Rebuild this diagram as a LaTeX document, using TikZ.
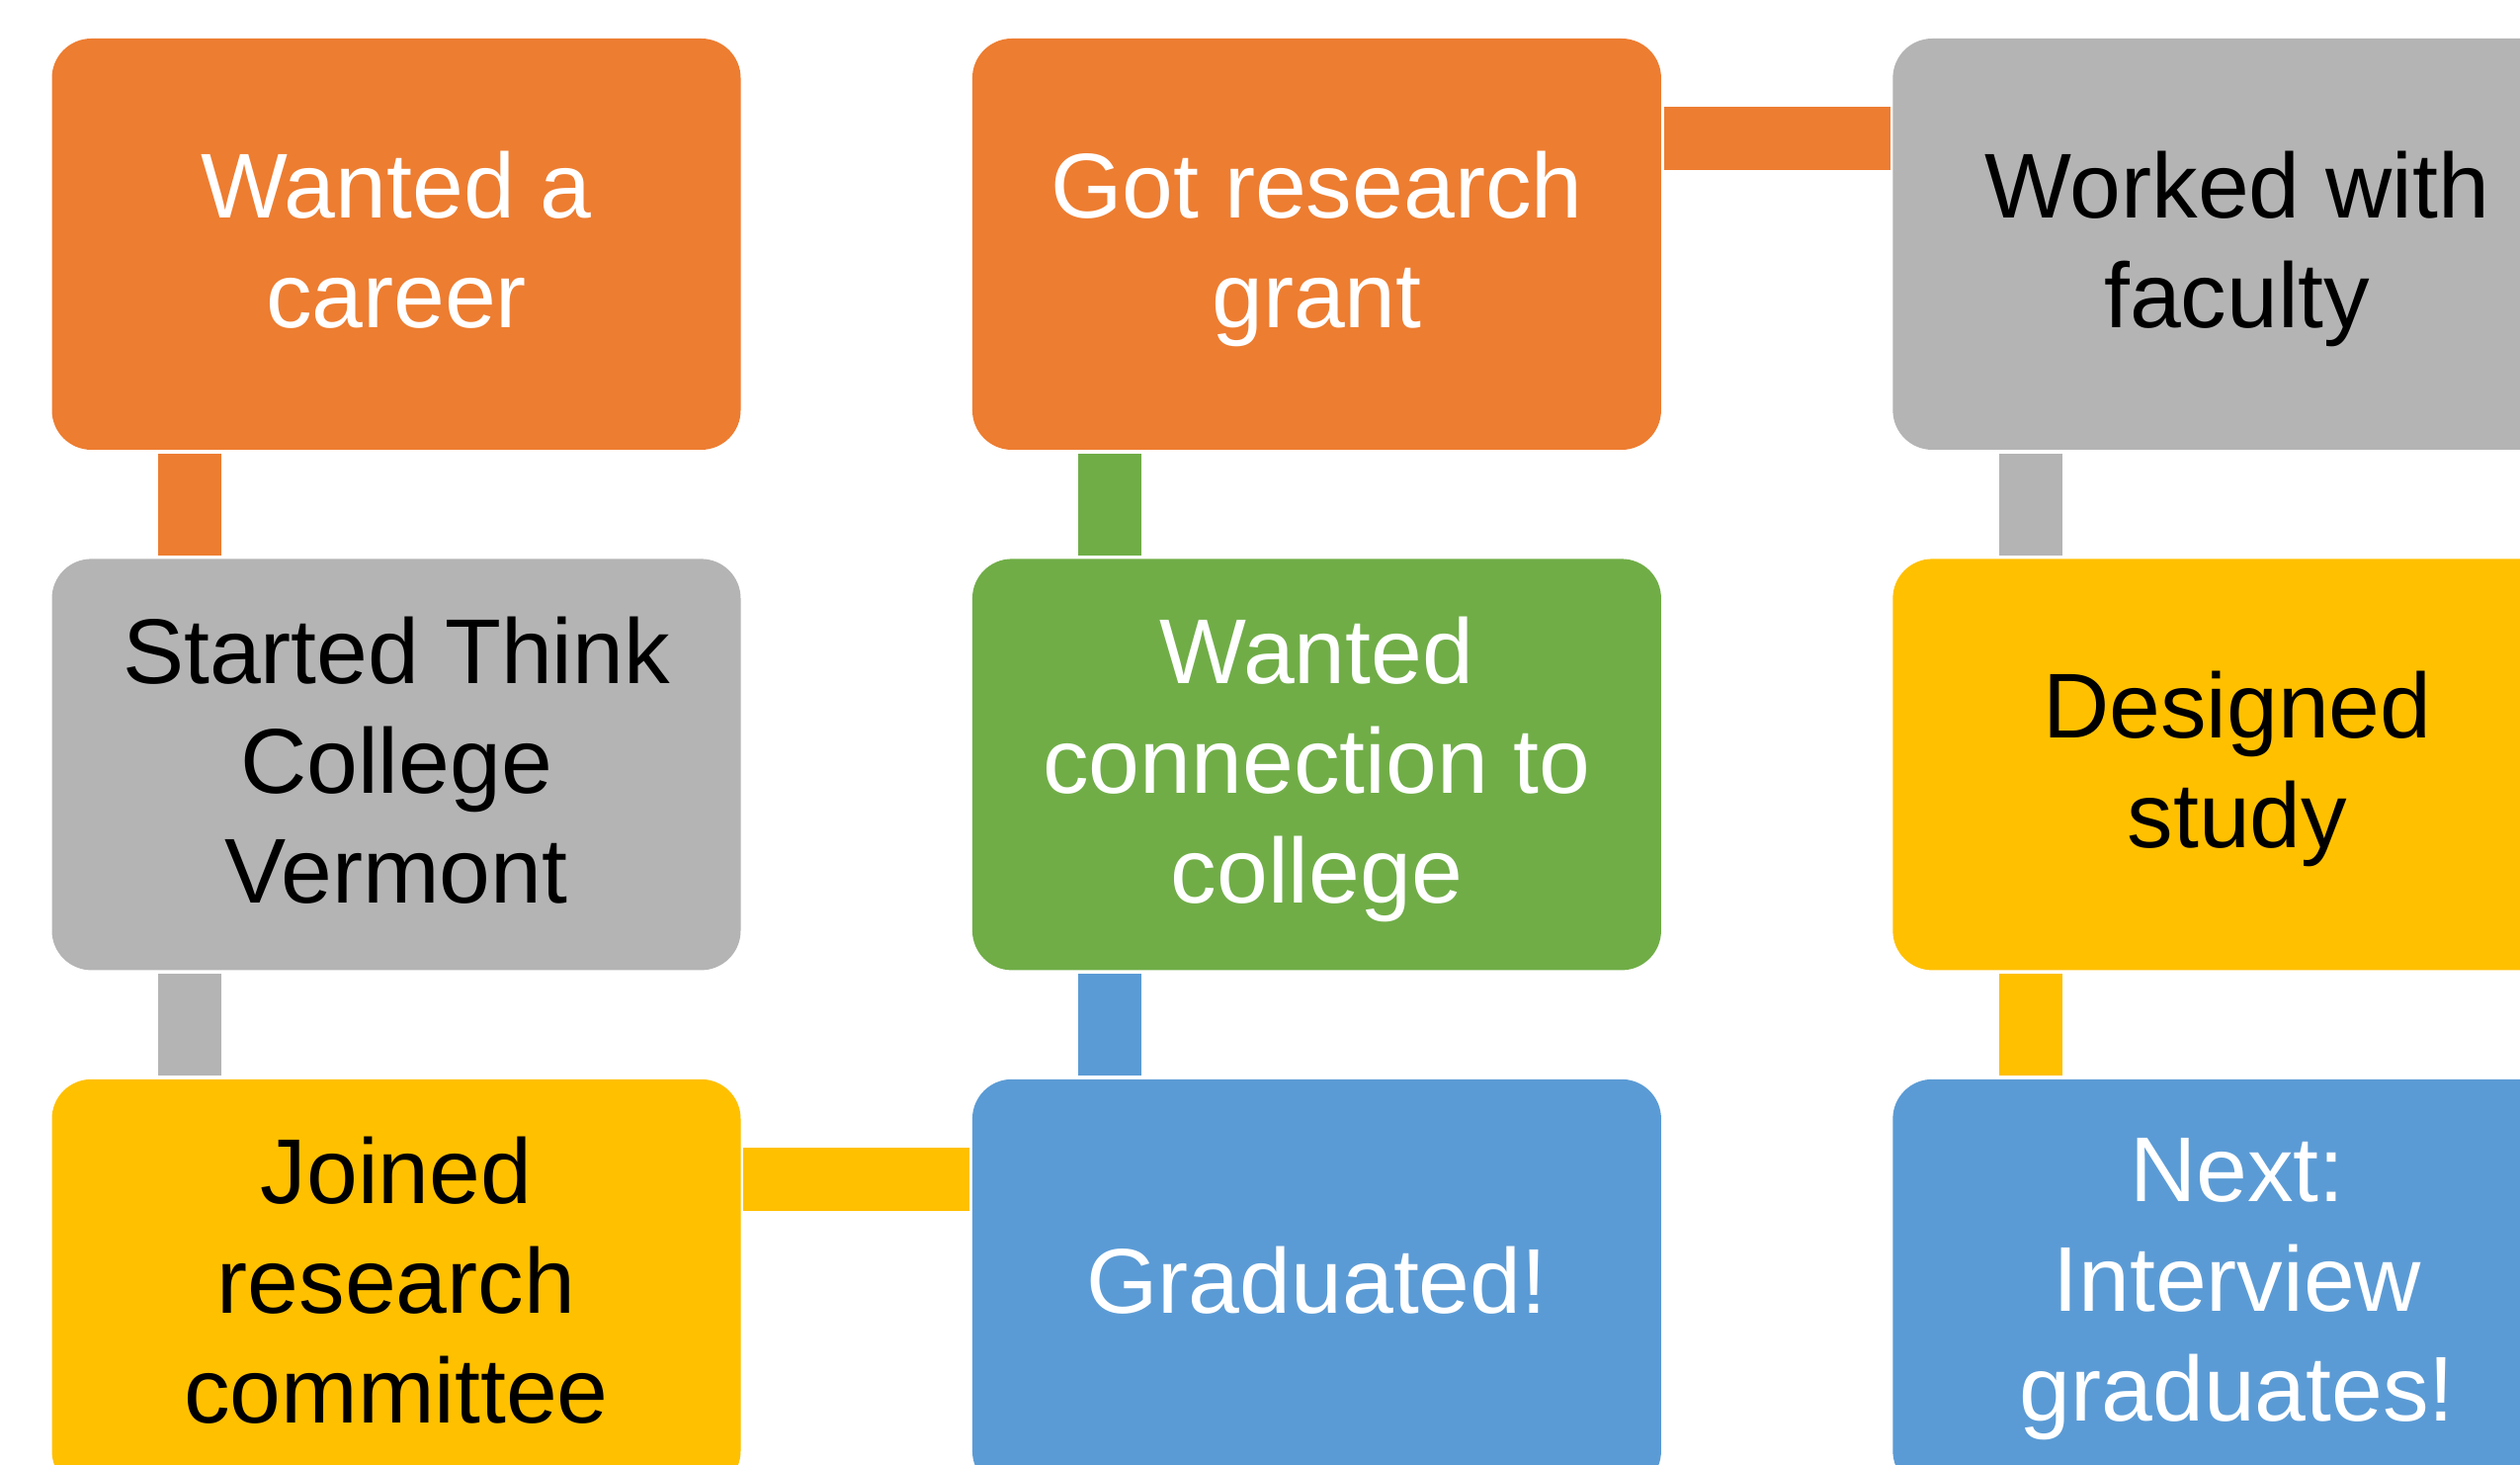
\documentclass[tikz,border=0pt]{standalone}
\usepackage{fontspec}
\setmainfont{Liberation Sans}
\usepackage[HTML]{xcolor}
\usetikzlibrary{positioning}
\definecolor{boxorange}{HTML}{ED7D31}
\definecolor{boxgray}{HTML}{B4B4B4}
\definecolor{boxyellow}{HTML}{FFC000}
\definecolor{boxblue}{HTML}{5B9BD5}
\definecolor{boxgreen}{HTML}{70AD47}

\begin{document}
\begin{tikzpicture}[
  stage/.style={rectangle, rounded corners=0.4cm, minimum width=6.97cm, minimum height=4.16cm, inner sep=0pt, text depth=0.1cm, align=center, font=\fontsize{26.5}{31.6}\selectfont},
  link/.style={line width=0.64cm},
  node distance=1.09cm and 2.33cm]
\useasboundingbox (0,0) rectangle (25.5,-14.82);
\clip (0,0) rectangle (25.5,-14.82);
\node[stage, fill=boxorange, text=white] (career) at (4.01,-2.47) {Wanted a\\career};
\node[stage, fill=boxgray, below=of career] (think) {Started Think\\College\\Vermont};
\node[stage, fill=boxyellow, below=of think] (joined) {Joined\\research\\committee};
\node[stage, fill=boxblue, text=white, right=of joined] (grad) {Graduated!};
\node[stage, fill=boxgreen, text=white, above=of grad] (connect) {Wanted\\connection to\\college};
\node[stage, fill=boxorange, text=white, above=of connect] (grant) {Got research\\grant};
\node[stage, fill=boxgray, right=of grant] (faculty) {Worked with\\faculty};
\node[stage, fill=boxyellow, below=of faculty] (study) {Designed\\study};
\node[stage, fill=boxblue, text=white, below=of study] (next) {Next:\\Interview\\graduates!};
\draw[link, boxorange] ([xshift=1.4cm,yshift=-0.03cm]career.south west) -- ([xshift=1.4cm,yshift=0.03cm]think.north west);
\draw[link, boxgray] ([xshift=1.4cm,yshift=-0.03cm]think.south west) -- ([xshift=1.4cm,yshift=0.03cm]joined.north west);
\draw[link, boxyellow] ([xshift=0.02cm,yshift=-1.02cm]joined.north east) -- ([xshift=-0.02cm,yshift=-1.02cm]grad.north west);
\draw[link, boxblue] ([xshift=1.4cm,yshift=0.03cm]grad.north west) -- ([xshift=1.4cm,yshift=-0.03cm]connect.south west);
\draw[link, boxgreen] ([xshift=1.4cm,yshift=0.03cm]connect.north west) -- ([xshift=1.4cm,yshift=-0.03cm]grant.south west);
\draw[link, boxorange] ([xshift=0.02cm,yshift=-1.02cm]grant.north east) -- ([xshift=-0.02cm,yshift=-1.02cm]faculty.north west);
\draw[link, boxgray] ([xshift=1.4cm,yshift=-0.03cm]faculty.south west) -- ([xshift=1.4cm,yshift=0.03cm]study.north west);
\draw[link, boxyellow] ([xshift=1.4cm,yshift=-0.03cm]study.south west) -- ([xshift=1.4cm,yshift=0.03cm]next.north west);
\end{tikzpicture}
\end{document}
